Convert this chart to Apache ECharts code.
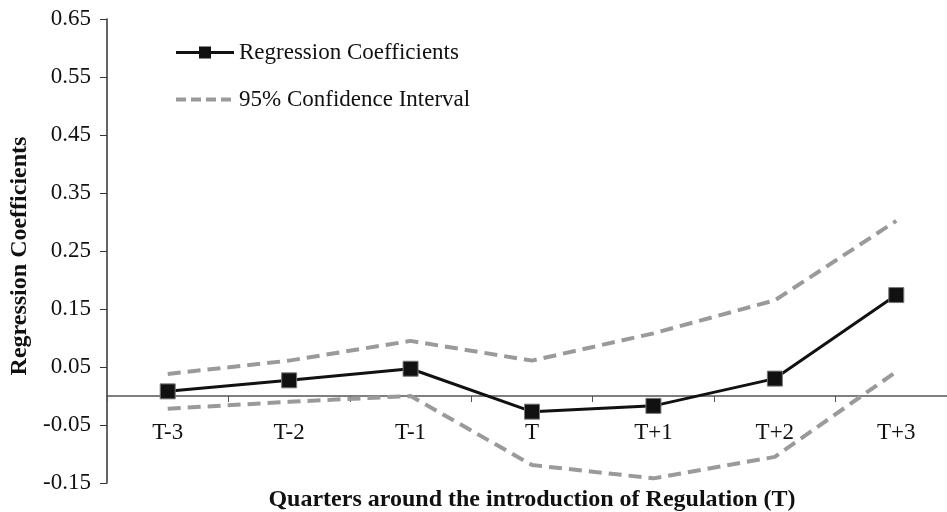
<!DOCTYPE html>
<html>
<head>
<meta charset="utf-8">
<script src="https://cdn.jsdelivr.net/npm/echarts@6/dist/echarts.min.js"></script>
<style>html,body{margin:0;padding:0;background:#fff}#c{width:947px;height:512px}</style>
</head>
<body>
<div id="c"></div>
<script>
const categories = ['T-3', 'T-2', 'T-1', 'T', 'T+1', 'T+2', 'T+3'];
const coefficients = [0.008, 0.027, 0.047, -0.027, -0.017, 0.030, 0.174];
const upperCI = [0.038, 0.061, 0.095, 0.061, 0.108, 0.165, 0.302];
const lowerCI = [-0.022, -0.010, 0.000, -0.119, -0.142, -0.105, 0.042];
const yTicks = [-0.15, -0.05, 0.05, 0.15, 0.25, 0.35, 0.45, 0.55, 0.65];

const FONT = 'Liberation Serif';
const chart = echarts.init(document.getElementById('c'));
const ciStyle = { color: '#9a9a9a', width: 4, type: [13, 7] };
chart.setOption({
  animation: false,
  backgroundColor: '#fff',
  textStyle: { fontFamily: FONT },
  legend: {
    orient: 'vertical', left: 169, top: 36, itemGap: 24,
    itemWidth: 58, itemHeight: 15,
    textStyle: { fontFamily: FONT, fontSize: 23, color: '#111' },
    data: [
      { name: 'Regression Coefficients', lineStyle: { width: 3, color: '#111' },
        itemStyle: { color: '#111', borderWidth: 0 } },
      { name: '95% Confidence Interval', lineStyle: { width: 4, type: [10, 5], color: '#9a9a9a' },
        itemStyle: { opacity: 0 } }
    ]
  },
  grid: { left: 107, right: -10, top: 19, bottom: 29, outerBoundsMode: 'none', containLabel: false },
  xAxis: {
    type: 'category', data: categories, boundaryGap: true,
    name: 'Quarters around the introduction of Regulation (T)',
    nameLocation: 'middle', nameGap: 5,
    nameTextStyle: { fontFamily: FONT, fontWeight: 'bold', fontSize: 24, color: '#111', verticalAlign: 'top' },
    axisLine: { onZero: true, lineStyle: { color: '#555', width: 1.5 } },
    axisTick: { show: true, length: 6, lineStyle: { color: '#555' } },
    axisLabel: { margin: -62, fontSize: 23, color: '#111', fontFamily: FONT },
    splitLine: { show: false }
  },
  yAxis: {
    type: 'value', min: yTicks[0], max: yTicks[yTicks.length - 1], interval: 0.1,
    name: 'Regression Coefficients', nameLocation: 'middle', nameGap: 75,
    nameTextStyle: { fontFamily: FONT, fontWeight: 'bold', fontSize: 24, color: '#111',
      padding: [0, 10, 0, 0] },
    axisLine: { show: true, lineStyle: { color: '#333', width: 1.5 } },
    axisTick: { show: true, length: 7, lineStyle: { color: '#333' } },
    axisLabel: { margin: 16, fontSize: 23, color: '#111', fontFamily: FONT,
      formatter: v => v.toFixed(2) },
    splitLine: { show: false }
  },
  series: [
    { name: '95% Confidence Interval', type: 'line', data: upperCI, symbol: 'none',
      lineStyle: ciStyle, itemStyle: { color: '#9a9a9a' }, z: 1 },
    { name: '95% Confidence Interval', type: 'line', data: lowerCI, symbol: 'none',
      lineStyle: ciStyle, itemStyle: { color: '#9a9a9a' }, z: 1 },
    { name: 'Regression Coefficients', type: 'line', data: coefficients,
      symbol: 'rect', symbolSize: 15,
      lineStyle: { color: '#111', width: 3 },
      itemStyle: { color: '#111', borderColor: '#777', borderWidth: 1 }, z: 3 }
  ]
});
</script>
</body>
</html>
